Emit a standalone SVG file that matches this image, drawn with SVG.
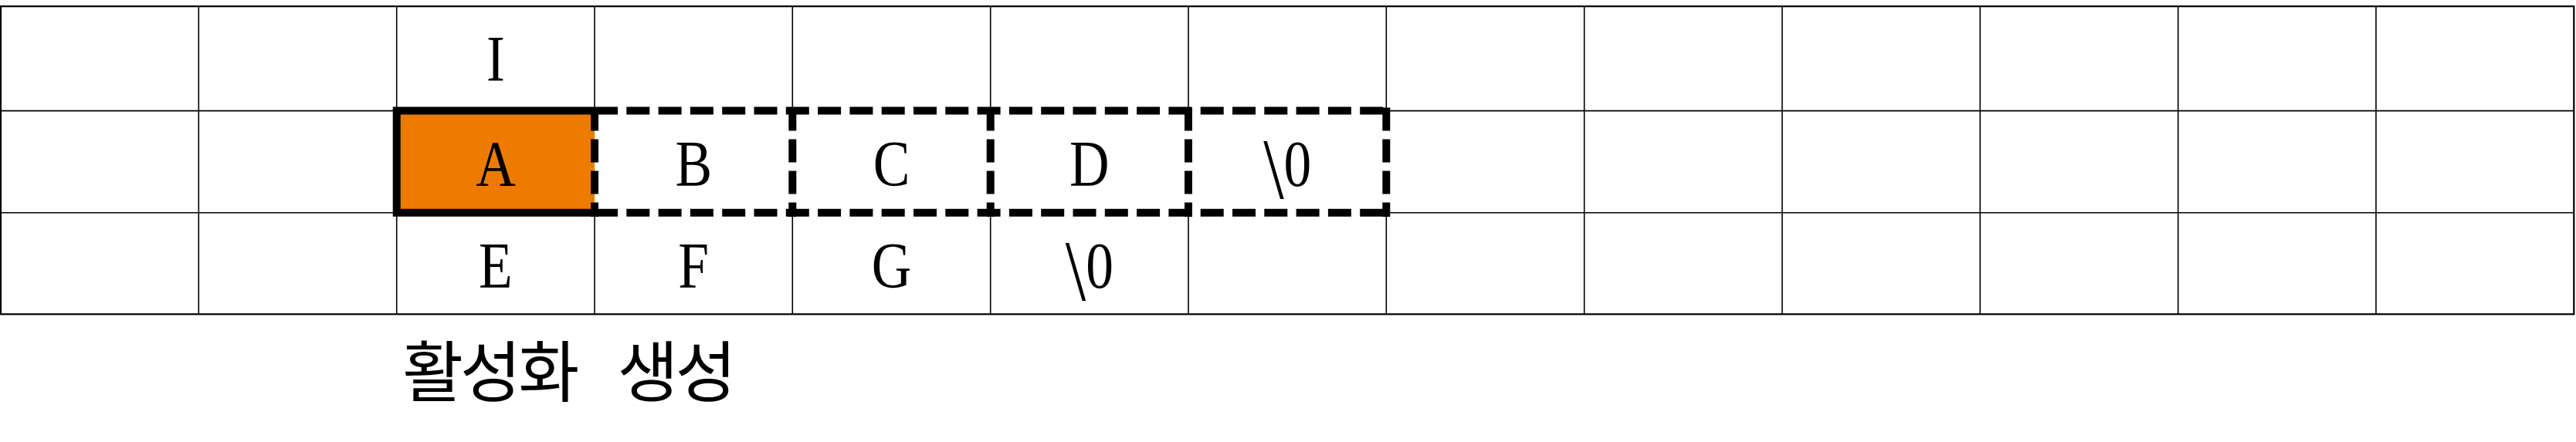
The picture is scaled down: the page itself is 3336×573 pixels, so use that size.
<svg xmlns="http://www.w3.org/2000/svg" width="3336" height="573" viewBox="0 0 3336 573">
  <style>
    .grid { stroke: #000; stroke-width: 1.6; fill: none; }
    .outer { stroke: #000; stroke-width: 2.2; fill: none; }
    .thick { stroke: #000; stroke-width: 10; fill: none; stroke-linejoin: miter; }
    .dashh { stroke: #000; stroke-width: 10; fill: none; stroke-dasharray: 30 11.3; }
    .dashv { stroke: #000; stroke-width: 10; fill: none; stroke-dasharray: 30 11; }
    .t { font-family: "Liberation Serif", "Times New Roman", serif; font-size: 84px; text-anchor: middle; fill: #000; }
    .bs { font-size: 112px; }
    .kr { font-family: "Noto Sans CJK KR", "Noto Sans", sans-serif; font-size: 86px; fill: #000; }
  </style>
  <rect width="3336" height="573" fill="#fff"/>

  <g id="grid">
    <rect class="outer" x="1" y="8.2" width="3332.3" height="399.1"/>
    <path class="grid" d="M1,143.6 H513.7 M1795.3,143.6 H3333.3 M1,275.8 H513.7 M1795.3,275.8 H3333.3"/>
    <path class="grid" d="M257.3,8.2 V407.3
      M513.7,8.2 V143.6 M513.7,275.8 V407.3
      M770,8.2 V143.6 M770,275.8 V407.3
      M1026.3,8.2 V143.6 M1026.3,275.8 V407.3
      M1282.7,8.2 V143.6 M1282.7,275.8 V407.3
      M1539,8.2 V143.6 M1539,275.8 V407.3
      M1795.3,8.2 V143.6 M1795.3,275.8 V407.3
      M2051.7,8.2 V407.3 M2308,8.2 V407.3 M2564.3,8.2 V407.3 M2820.7,8.2 V407.3 M3077,8.2 V407.3"/>
  </g>

  <g id="cell-A">
    <rect x="513.7" y="143.6" width="256.3" height="132.2" fill="#EE7B00"/>
    <path class="thick" d="M770,143.6 H513.7 V275.8 H770"/>
    <text class="t" transform="translate(641.9 240.7) scale(0.85 1)">A</text>
  </g>

  <g id="connectors">
    <path class="dashh" d="M770,143.6 H1795.3 M770,275.8 H1795.3"/>
    <path class="dashv" d="M770,139.5 V281 M1026.3,139.5 V281 M1282.7,139.5 V281 M1539,139.5 V281 M1795.3,139.5 V281"/>
  </g>

  <g id="cell-I"><text class="t" transform="translate(641.9 105) scale(0.85 1)">I</text></g>
  <g id="cell-B"><text class="t" transform="translate(898.2 240.7) scale(0.85 1)">B</text></g>
  <g id="cell-C"><text class="t" transform="translate(1154.5 240.7) scale(0.85 1)">C</text></g>
  <g id="cell-D"><text class="t" transform="translate(1410.8 240.7) scale(0.85 1)">D</text></g>
  <g id="cell-null1"><text class="t" transform="translate(1667.2 240.7) scale(0.85 1)"><tspan class="bs" dy="16">\</tspan><tspan dy="-16">0</tspan></text></g>
  <g id="cell-E"><text class="t" transform="translate(641.9 373) scale(0.85 1)">E</text></g>
  <g id="cell-F"><text class="t" transform="translate(898.2 373) scale(0.85 1)">F</text></g>
  <g id="cell-G"><text class="t" transform="translate(1154.5 373) scale(0.85 1)">G</text></g>
  <g id="cell-null2"><text class="t" transform="translate(1410.8 373) scale(0.85 1)"><tspan class="bs" dy="16">\</tspan><tspan dy="-16">0</tspan></text></g>

  <g id="caption">
    <text class="kr" x="521" y="514" letter-spacing="-4" word-spacing="38">활성화 생성</text>
  </g>
</svg>
